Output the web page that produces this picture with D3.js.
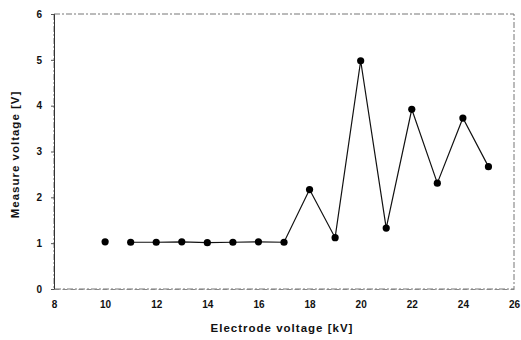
<!DOCTYPE html>
<html>
<head>
<meta charset="utf-8">
<script src="https://cdn.jsdelivr.net/npm/d3@7"></script>
<style>
  body { margin: 0; background: #fff; }
  text { font-family: "Liberation Sans", Arial, sans-serif; font-weight: bold; fill: #111; }
</style>
</head>
<body>
<div id="chart"></div>
<script>
// electrode voltage (kV) and measured voltage (V)
const electrodeKV = [10, 11, 12, 13, 14, 15, 16, 17, 18, 19, 20, 21, 22, 23, 24, 25];
const measureV = [1.03, 1.02, 1.02, 1.03, 1.01, 1.02, 1.03, 1.02, 2.17, 1.12, 4.98, 1.33, 3.92, 2.31, 3.73, 2.67];
const xTicks = [8, 10, 12, 14, 16, 18, 20, 22, 24, 26];
const yTicks = [0, 1, 2, 3, 4, 5, 6];

const width = 521, height = 340;
const margin = { top: 14, right: 7, bottom: 51, left: 54 };

const svg = d3.select('#chart').append('svg')
  .attr('width', width)
  .attr('height', height);

const x = d3.scaleLinear().domain([8, 26]).range([margin.left, width - margin.right]);
const y = d3.scaleLinear().domain([0, 6]).range([height - margin.bottom, margin.top]);

// plot frame (faint, dashed like the scan)
svg.append('rect')
  .attr('x', x(8)).attr('y', y(6))
  .attr('width', x(26) - x(8)).attr('height', y(0) - y(6))
  .attr('fill', 'none')
  .attr('stroke', '#777')
  .attr('stroke-width', 1)
  .attr('stroke-dasharray', '6,2,2,2');

// left axis
const yAxis = svg.append('g')
  .attr('transform', `translate(${x(8)},0)`)
  .call(d3.axisLeft(y).tickValues(yTicks).tickFormat(d3.format('d')).tickSize(3).tickPadding(9));
yAxis.select('.domain').attr('stroke', '#333');
yAxis.selectAll('.tick line').attr('stroke', '#555');
yAxis.selectAll('text').style('font-size', '10px');

// bottom axis
const xAxis = svg.append('g')
  .attr('transform', `translate(0,${y(0)})`)
  .call(d3.axisBottom(x).tickValues(xTicks).tickFormat(d3.format('d')).tickSize(0).tickPadding(12));
xAxis.select('.domain').attr('stroke', '#888').attr('stroke-dasharray', '5,3');
xAxis.selectAll('text').style('font-size', '10px');

// axis titles
svg.append('text')
  .attr('x', 282).attr('y', 332)
  .attr('text-anchor', 'middle')
  .style('font-size', '11.5px')
  .style('letter-spacing', '1px')
  .text('Electrode voltage [kV]');

svg.append('text')
  .attr('transform', `translate(19,${(y(0) + y(6)) / 2 + 3}) rotate(-90)`)
  .attr('text-anchor', 'middle')
  .style('font-size', '11.5px')
  .style('letter-spacing', '1px')
  .text('Measure voltage [V]');

const pts = electrodeKV.map((d, i) => ({ kv: d, v: measureV[i] }));

// line (first point stands apart in the original)
const line = d3.line().x(d => x(d.kv)).y(d => y(d.v));
svg.append('path')
  .datum(pts.slice(1))
  .attr('d', line)
  .attr('fill', 'none')
  .attr('stroke', '#111')
  .attr('stroke-width', 1.2);

svg.selectAll('circle')
  .data(pts)
  .join('circle')
  .attr('cx', d => x(d.kv))
  .attr('cy', d => y(d.v))
  .attr('r', 3.6)
  .attr('fill', '#000');
</script>
</body>
</html>
